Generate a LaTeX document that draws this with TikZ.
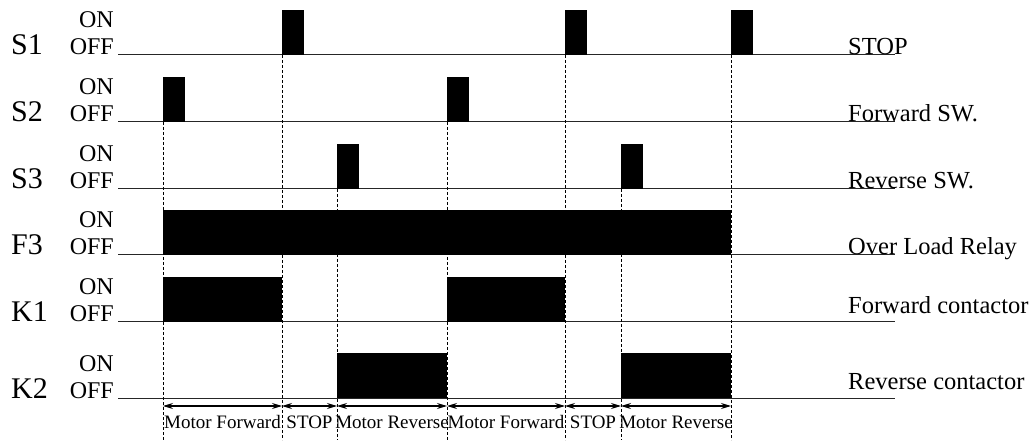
\documentclass[tikz,border=0pt]{standalone}
\usepackage{fontspec}
\setmainfont{Liberation Serif}
\usetikzlibrary{arrows.meta}

\tikzset{
  siglabel/.style={font=\fontsize{30}{30}\selectfont, anchor=base west, inner sep=0pt},
  onoff/.style={font=\fontsize{24}{24}\selectfont, anchor=base east, inner sep=0pt},
  desc/.style={font=\fontsize{24.5}{24.5}\selectfont, anchor=base west, inner sep=0pt},
  phase/.style={font=\fontsize{19}{19}\selectfont, anchor=base, inner sep=0pt},
  level/.style={line width=1pt, black!85},
  guide/.style={dash pattern=on 3pt off 2pt, line width=0.8pt},
  span/.style={{Stealth[length=10pt,width=6pt]}-{Stealth[length=10pt,width=6pt]}, line width=1.1pt}
}

\begin{document}
\begin{tikzpicture}[x=1pt,y=-1pt]
    \useasboundingbox (0,0) rectangle (1036,446);

    % ==========================================
    % Signal rows: name / baseline / description / description baseline
    % ==========================================
    \foreach \name/\yy/\desc/\dy in {S1/55/STOP/55, S2/122/Forward SW./122, S3/189/Reverse SW./189,
        F3/255/Over Load Relay/255, K1/322/Forward contactor/314, K2/398/Reverse contactor/389} {
        \node[siglabel] (lbl\name) at (11,\yy) {\name};
        \node[onoff] (on\name) at (114,\yy-27) {ON};
        \node[onoff] (off\name) at (114,\yy) {OFF};
        \coordinate (a\name) at (118,\yy);
        \coordinate (b\name) at (895,\yy);
        \draw[level] (a\name) -- (b\name);
        \node[desc] (d\name) at (848,\dy) {\desc};
    }

    % ==========================================
    % ON states
    % ==========================================
    % Push buttons: short pulses
    \foreach \x in {282,565,731} \fill (\x,55) rectangle ++(22,-45);
    \foreach \x in {163,447} \fill (\x,122) rectangle ++(22,-45);
    \foreach \x in {337,621} \fill (\x,189) rectangle ++(22,-45);

    % Over load relay
    \fill (163,255) rectangle (731,210);

    % Contactors
    \fill (163,322) rectangle (282,277);
    \fill (447,322) rectangle (565,277);
    \fill (337,398) rectangle (447,353);
    \fill (621,398) rectangle (731,353);

    % ==========================================
    % Switching instants and phases
    % ==========================================
    \foreach \x/\top in {163/122, 282/55, 337/189, 447/122, 565/55, 621/189, 731/55}
        \draw[guide] (\x,\top) -- (\x,440);

    \foreach \i/\x in {1/163, 2/282, 3/337, 4/447, 5/565, 6/621, 7/731}
        \coordinate (p\i) at (\x,406);

    \draw[span] (p1) -- (p2) node[midway, phase, yshift=-22pt] (ph1) {Motor Forward};
    \draw[span] (p2) -- (p3) node[midway, phase, yshift=-22pt] (ph2) {STOP};
    \draw[span] (p3) -- (p4) node[midway, phase, yshift=-22pt] (ph3) {Motor Reverse};
    \draw[span] (p4) -- (p5) node[midway, phase, yshift=-22pt] (ph4) {Motor Forward};
    \draw[span] (p5) -- (p6) node[midway, phase, yshift=-22pt] (ph5) {STOP};
    \draw[span] (p6) -- (p7) node[midway, phase, yshift=-22pt] (ph6) {Motor Reverse};

\end{tikzpicture}
\end{document}
